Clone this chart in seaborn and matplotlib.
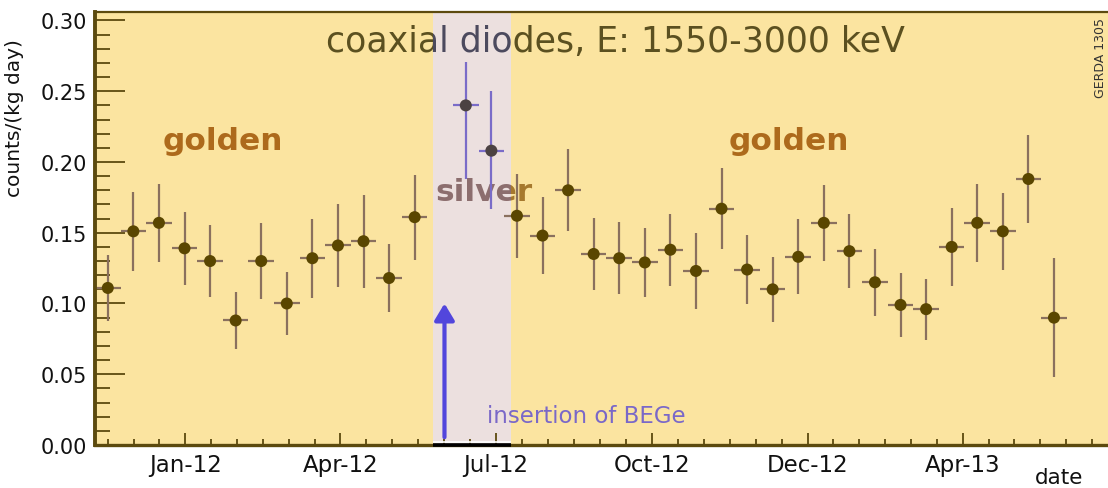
import numpy as np
import pandas as pd
import matplotlib
matplotlib.use("Agg")
import matplotlib.pyplot as plt
import matplotlib.dates as mdates
from matplotlib.patches import Rectangle
import seaborn as sns

# ---------------------------------------------------------------------------
# Data: background rate of the coaxial detectors in 15-day bins
# ---------------------------------------------------------------------------
run_start = "2011-11-09"          # opening of the first 15-day bin
bin_days = 15

golden_bins = [0, 1, 2, 3, 4, 5, 6, 7, 8, 9, 10, 11, 12,
               16, 17, 18, 19, 20, 21, 22, 23, 24, 25, 26, 27,
               28, 29, 30, 31, 32, 33, 34, 35, 36, 37]
golden_rate = [0.111, 0.151, 0.157, 0.139, 0.130, 0.088, 0.130, 0.100, 0.132,
               0.141, 0.144, 0.118, 0.161,
               0.162, 0.148, 0.180, 0.135, 0.132, 0.129, 0.138, 0.123, 0.167,
               0.124, 0.110, 0.133, 0.157, 0.137, 0.115, 0.099, 0.096, 0.140,
               0.157, 0.151, 0.188, 0.090]
golden_err = [0.0235, 0.028, 0.0275, 0.0257, 0.0255, 0.0204, 0.027, 0.022, 0.028,
              0.029, 0.033, 0.024, 0.030,
              0.0295, 0.027, 0.029, 0.0257, 0.0255, 0.0245, 0.0255, 0.0267, 0.0285,
              0.0245, 0.023, 0.0265, 0.027, 0.026, 0.0235, 0.0225, 0.0215, 0.0275,
              0.0275, 0.027, 0.031, 0.042]

silver_bins = [14, 15]
silver_rate = [0.240, 0.208]
silver_err_low = [0.052, 0.041]
silver_err_high = [0.031, 0.042]

# silver period and BEGe insertion
silver_from, silver_to = "2012-05-25 12:00", "2012-07-10"
bege_date = "2012-06-01"

tick_dates = ["2012-01-01", "2012-04-01", "2012-07-01", "2012-10-01",
              "2012-12-31", "2013-04-01"]
tick_labels = ["Jan-12", "Apr-12", "Jul-12", "Oct-12", "Dec-12", "Apr-13"]

title_text = "coaxial diodes, E: 1550-3000 keV"
y_title = "counts/(kg day)"

# ---------------------------------------------------------------------------
# Styling
# ---------------------------------------------------------------------------
sns.set_style("ticks")
plt.rcParams["font.family"] = ["DejaVu Sans"]

bg_gold = "#FBE4A0"
band_col = "#ECE0DF"
frame_col = "#5C4A0E"
dot_col = "#5A4600"
bar_col = "#8A705E"
silver_dot = "#4B4242"
silver_bar = "#7A6CC8"
golden_txt = "#AD6A1C"
arrow_col = "#5246DC"


def to_num(s):
    return mdates.date2num(pd.Timestamp(s))


t0 = pd.Timestamp(run_start)


def bin_centers(bins):
    return [mdates.date2num(t0 + pd.Timedelta(days=bin_days * (b + 0.5))) for b in bins]


gold_df = pd.DataFrame({"t": bin_centers(golden_bins), "rate": golden_rate, "err": golden_err})
silv_df = pd.DataFrame({"t": bin_centers(silver_bins), "rate": silver_rate,
                        "lo": silver_err_low, "hi": silver_err_high})

fig = plt.figure(figsize=(11.08, 4.89), dpi=100)
fig.patch.set_facecolor("white")
ax = fig.add_axes([95 / 1108, (489 - 446) / 489, (1108 - 95) / 1108, (446 - 13) / 489])
ax.set_facecolor(bg_gold)

x_lo = to_num(run_start)
x_hi = x_lo + 594.2
ax.set_xlim(x_lo, x_hi)
ax.set_ylim(0, 0.306)

# silver period band
b_lo, b_hi = to_num(silver_from), to_num(silver_to)
ax.axvspan(b_lo, b_hi, color=band_col, zorder=0.5, lw=0)

# error bars and markers
half = bin_days / 2
ax.errorbar(gold_df["t"], gold_df["rate"], yerr=gold_df["err"], xerr=half,
            fmt="none", ecolor=bar_col, elinewidth=1.6, capsize=0, zorder=2)
ax.errorbar(silv_df["t"], silv_df["rate"], yerr=[silv_df["lo"], silv_df["hi"]],
            xerr=half, fmt="none", ecolor=silver_bar, elinewidth=1.6, capsize=0,
            zorder=5)
sns.scatterplot(data=gold_df, x="t", y="rate", ax=ax, color=dot_col, s=75,
                edgecolor="none", zorder=3, legend=False)
sns.scatterplot(data=silv_df, x="t", y="rate", ax=ax, color=silver_dot, s=75,
                edgecolor="none", zorder=6, legend=False)
ax.set_xlabel("")
ax.set_ylabel("")

# axis ticks
majors = [to_num(d) for d in tick_dates]
minors = []
for a, b in zip(majors[:-1], majors[1:]):
    minors += list(np.linspace(a, b, 7)[1:-1])
step0 = (majors[1] - majors[0]) / 6
stepn = (majors[-1] - majors[-2]) / 6
k = 1
while majors[0] - k * step0 > x_lo:
    minors.append(majors[0] - k * step0)
    k += 1
k = 1
while majors[-1] + k * stepn < x_hi:
    minors.append(majors[-1] + k * stepn)
    k += 1
ax.set_xticks(majors)
ax.set_xticklabels(tick_labels)
ax.set_xticks(minors, minor=True)
ax.set_yticks(np.arange(0, 0.301, 0.05))
ax.set_yticklabels([f"{v:.2f}" for v in np.arange(0, 0.301, 0.05)])
ax.set_yticks(np.arange(0, 0.306, 0.01), minor=True)

ax.tick_params(axis="x", which="major", direction="in", length=8.6, width=1.3,
               color=frame_col, pad=6, labelsize=16.5, labelcolor="#111111")
ax.tick_params(axis="x", which="minor", direction="in", length=4.3, width=1.3,
               color=frame_col)
ax.tick_params(axis="y", which="major", direction="in", length=21.6, width=1.3,
               color=frame_col, pad=6, labelsize=15, labelcolor="#111111")
ax.tick_params(axis="y", which="minor", direction="in", length=10.8, width=1.3,
               color=frame_col)

for side, lw in [("left", 2.8), ("bottom", 2.4), ("top", 1.6)]:
    ax.spines[side].set_color(frame_col)
    ax.spines[side].set_linewidth(lw)
    ax.spines[side].set_visible(True)
ax.spines["right"].set_visible(False)

# black axis segment under the silver period
ax.plot([b_lo, b_hi], [0, 0], color="black", lw=2.6, clip_on=False, zorder=5,
        solid_capstyle="butt")
ax.plot([b_lo, b_hi], [0.0022, 0.0022], color="white", lw=1.2, zorder=5,
        solid_capstyle="butt")

# clip regions inside/outside the silver band
band_clip = Rectangle((b_lo, 0), b_hi - b_lo, 1, transform=ax.transData)
out_left = Rectangle((x_lo, 0), b_lo - x_lo, 1, transform=ax.transData)
out_right = Rectangle((b_hi, 0), x_hi - b_hi, 1, transform=ax.transData)


def two_tone(x, y, s, inside, outside, **kw):
    for col, clip in [(outside, out_left), (outside, out_right), (inside, band_clip)]:
        t = ax.text(x, y, s, color=col, ha="center", va="center", zorder=4, **kw)
        t.set_clip_path(clip)
        t.set_clip_on(True)


# title inside the frame
two_tone(to_num("2012-09-09"), 0.2857, title_text, "#4C4A5E", "#5B5020", fontsize=25)

# period labels
ax.text(to_num("2012-01-23"), 0.215, "golden", color=golden_txt, fontsize=22.5,
        fontweight="bold", ha="center", va="center", zorder=4)
ax.text(to_num("2012-12-20"), 0.215, "golden", color=golden_txt, fontsize=22.5,
        fontweight="bold", ha="center", va="center", zorder=4)
two_tone(to_num("2012-06-24"), 0.179, "silver", "#8C6E6E", "#A6792E",
         fontsize=22.5, fontweight="bold")

# BEGe insertion arrow
xb = to_num(bege_date)
ax.annotate("", xy=(xb, 0.100), xytext=(xb, 0.0055),
            arrowprops=dict(arrowstyle="-|>,head_width=0.6,head_length=1.0",
                            color=arrow_col, lw=3.0, shrinkA=0, shrinkB=0),
            zorder=6)
ax.text(to_num("2012-06-26"), 0.0212, "insertion of BEGe", color="#7A68C8",
        fontsize=16.5, ha="left", va="center", zorder=4)

# axis titles and tag
fig.text(15 / 1108, (489 - 118) / 489, y_title, rotation=90, ha="center",
         va="center", fontsize=14.5, color="#111111")
fig.text(1083 / 1108, (489 - 478) / 489, "date", ha="right", va="center",
         fontsize=15.5, color="#111111")
fig.text(1100 / 1108, (489 - 58) / 489, "GERDA 1305", rotation=90, ha="center",
         va="center", fontsize=9, color="#333333")

fig.savefig("out.png", dpi=100, facecolor="white")
